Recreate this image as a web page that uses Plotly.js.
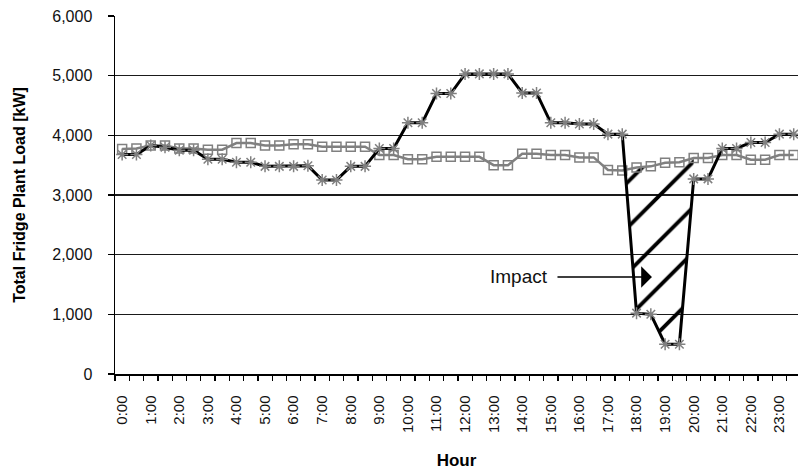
<!DOCTYPE html>
<html>
<head>
<meta charset="utf-8">
<script src="https://cdn.plot.ly/plotly-3.0.1.min.js"></script>
<style>
  html, body { margin: 0; padding: 0; background: #fff; }
  #chart { width: 798px; height: 470px; }
</style>
</head>
<body>
<div id="chart"></div>
<script>
// Half-hour slots (categories)
const slots = ['0:00','0:30','1:00','1:30','2:00','2:30','3:00','3:30','4:00','4:30','5:00','5:30',
  '6:00','6:30','7:00','7:30','8:00','8:30','9:00','9:30','10:00','10:30','11:00','11:30',
  '12:00','12:30','13:00','13:30','14:00','14:30','15:00','15:30','16:00','16:30','17:00','17:30',
  '18:00','18:30','19:00','19:30','20:00','20:30','21:00','21:30','22:00','22:30','23:00','23:30'];

// Hour tick labels
const hourLabels = ['0:00','1:00','2:00','3:00','4:00','5:00','6:00','7:00','8:00','9:00','10:00','11:00',
  '12:00','13:00','14:00','15:00','16:00','17:00','18:00','19:00','20:00','21:00','22:00','23:00'];

// Series with load shedding event (black line, star markers) [kW]
const loadEvent = [3680,3680,3830,3800,3750,3750,3600,3600,3550,3550,3480,3480,
  3480,3490,3250,3250,3480,3480,3780,3780,4210,4210,4700,4700,
  5030,5030,5030,5030,4710,4710,4210,4210,4190,4190,4020,4020,
  1020,1000,500,500,3270,3270,3780,3780,3880,3880,4020,4020];

// Baseline series (grey line, square markers) [kW]
const loadBase = [3770,3780,3830,3830,3780,3780,3760,3760,3870,3870,3830,3830,
  3850,3850,3810,3810,3810,3810,3670,3670,3600,3600,3640,3640,
  3640,3640,3500,3500,3690,3690,3670,3670,3630,3630,3420,3410,
  3460,3480,3540,3550,3620,3620,3670,3670,3590,3590,3670,3670];

// Impact window (slot indices)
const impactStart = 35; // 17:30
const impactEnd = 40;   // 20:00

const xIdx = slots.map((s, i) => i);
const hourIdx = hourLabels.map(h => slots.indexOf(h));

// Build hatched impact polygon between baseline (top) and event (bottom)
// start at the crossing of the two lines between impactStart and impactStart+1
const i0 = impactStart, i1 = impactStart + 1;
const dA = loadEvent[i1] - loadEvent[i0];
const dB = loadBase[i1] - loadBase[i0];
const t = (loadBase[i0] - loadEvent[i0]) / (dA - dB);
const xc = i0 + t;
const yc = loadEvent[i0] + t * dA;
const polyX = [xc], polyY = [yc];
for (let i = i1; i <= impactEnd; i++) { polyX.push(xIdx[i]); polyY.push(loadBase[i]); }
for (let i = impactEnd; i >= i1; i--) { polyX.push(xIdx[i]); polyY.push(loadEvent[i]); }
polyX.push(xc); polyY.push(yc);

const font = 'Liberation Sans, Arial, sans-serif';

const traces = [
  {
    x: polyX, y: polyY, type: 'scatter', mode: 'lines',
    fill: 'toself', fillcolor: 'rgba(0,0,0,0)',
    fillpattern: { shape: '/', size: 32, solidity: 0.12, fgcolor: '#000', bgcolor: 'rgba(0,0,0,0)' },
    line: { width: 0, color: 'rgba(0,0,0,0)' },
    hoverinfo: 'skip', showlegend: false
  },
  {
    x: xIdx, y: loadBase, type: 'scatter', mode: 'lines+markers',
    line: { color: '#808080', width: 2.5 },
    marker: { symbol: 'square-open', size: 9, color: '#808080', line: { color: '#808080', width: 1.5 } },
    showlegend: false
  },
  {
    x: xIdx, y: loadEvent, type: 'scatter', mode: 'lines+markers',
    line: { color: '#000000', width: 3 },
    marker: { symbol: 'asterisk-open', size: 10, color: '#808080', line: { color: '#808080', width: 1.5 } },
    showlegend: false
  }
];

const layout = {
  width: 798, height: 470,
  margin: { l: 115, r: 0, t: 16, b: 96 },
  paper_bgcolor: '#fff', plot_bgcolor: '#fff',
  font: { family: font, color: '#111' },
  showlegend: false,
  xaxis: {
    range: [-0.5, 47.3],
    tickmode: 'array', tickvals: hourIdx, ticktext: hourLabels,
    tickangle: -90, ticks: 'outside', ticklen: 0,
    ticklabelstandoff: 14,
    tickfont: { family: font, size: 15, color: '#111' },
    minor: { tickmode: 'array', tickvals: slots.map((s, i) => i - 0.5).concat([slots.length - 0.5]),
             ticks: 'outside', ticklen: 5, tickwidth: 1.3, tickcolor: '#000', showgrid: false },
    showgrid: false, zeroline: false,
    showline: true, linecolor: '#000', linewidth: 1.5,
    title: { text: 'Hour', font: { family: font, size: 17, color: '#000', weight: 'bold' }, standoff: 30 },
    fixedrange: true
  },
  yaxis: {
    range: [0, 6000], dtick: 1000, tickformat: ',d',
    ticks: 'outside', ticklen: 6, tickwidth: 1.3, tickcolor: '#000',
    ticklabelstandoff: 12,
    tickfont: { family: font, size: 16, color: '#111' },
    showgrid: true, gridcolor: '#1a1a1a', gridwidth: 1.3,
    zeroline: false,
    showline: true, linecolor: '#000', linewidth: 1.5,
    title: { text: 'Total Fridge Plant Load [kW]', font: { family: font, size: 16, color: '#000', weight: 'bold' }, standoff: 22 },
    fixedrange: true
  },
  annotations: [
    {
      x: 37.08, y: 1626, xref: 'x', yref: 'y',
      ax: -133, ay: 0, axref: 'pixel', ayref: 'pixel',
      text: 'Impact', showarrow: true,
      arrowhead: 1, arrowsize: 2.4, arrowwidth: 1.5, arrowcolor: '#000',
      borderpad: 9,
      font: { family: font, size: 19, color: '#111' }
    }
  ]
};

Plotly.newPlot('chart', traces, layout, { displayModeBar: false, staticPlot: true });
</script>
</body>
</html>
